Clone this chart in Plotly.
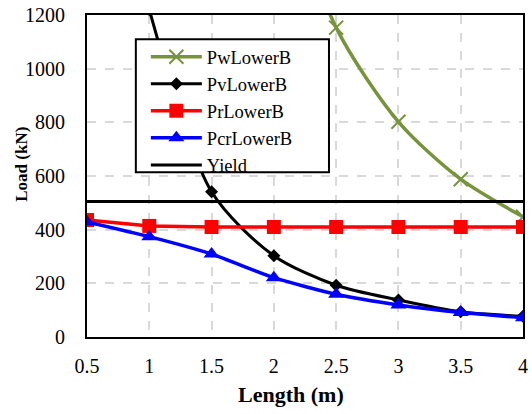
import plotly.graph_objects as go

# ---- data ----
length_m = [0.5, 1.0, 1.5, 2.0, 2.5, 3.0, 3.5, 4.0]

pw_x = [2.0, 2.5, 3.0, 3.5, 4.0]
pw_lower_b = [1800, 1153, 802, 588, 448]

pv_x = [1.0, 1.5, 2.0, 2.5, 3.0, 3.5, 4.0]
pv_lower_b = [1220, 541, 303, 193, 138, 94, 77]

pr_lower_b = [436, 414, 410, 410, 410, 410, 410, 410]
pcr_lower_b = [429, 374, 309, 221, 159, 119, 91, 72]

yield_x = [0.5, 4.0]
yield_load = [505, 505]

x_ticks = [0.5, 1, 1.5, 2, 2.5, 3, 3.5, 4]
x_tick_text = ["0.5", "1", "1.5", "2", "2.5", "3", "3.5", "4"]
y_ticks = [0, 200, 400, 600, 800, 1000, 1200]

x_title = "<b>Length (m)</b>"
y_title = "<b>Load (kN)</b>"

FONT = "Liberation Serif, Times New Roman, serif"

fig = go.Figure()
fig.add_trace(go.Scatter(
    x=pw_x, y=pw_lower_b, name="PwLowerB", mode="lines+markers",
    line=dict(color="#77933C", width=3.5, shape="spline", smoothing=0.8),
    marker=dict(symbol="x-thin", size=14, line=dict(color="#77933C", width=2)),
))
fig.add_trace(go.Scatter(
    x=pv_x, y=pv_lower_b, name="PvLowerB", mode="lines+markers",
    line=dict(color="black", width=3, shape="spline", smoothing=0.8),
    marker=dict(symbol="diamond", size=10, color="black"),
))
fig.add_trace(go.Scatter(
    x=length_m, y=pr_lower_b, name="PrLowerB", mode="lines+markers",
    line=dict(color="#FF0000", width=3.5),
    marker=dict(symbol="square", size=14, color="#FF0000"),
))
fig.add_trace(go.Scatter(
    x=length_m, y=pcr_lower_b, name="PcrLowerB", mode="lines+markers",
    line=dict(color="#0000FF", width=3.5, shape="spline", smoothing=0.6),
    marker=dict(symbol="triangle-up", size=14, color="#0000FF"),
))
fig.add_trace(go.Scatter(
    x=yield_x, y=yield_load, name="Yield", mode="lines",
    line=dict(color="black", width=3),
))

fig.update_layout(
    width=532, height=414,
    margin=dict(l=87, r=9, t=15, b=77),
    paper_bgcolor="white", plot_bgcolor="white",
    font=dict(family=FONT, size=20, color="black"),
    showlegend=True,
    legend=dict(
        x=0.135, y=0.928, xanchor="left", yanchor="top",
        bgcolor="rgba(0,0,0,0)", borderwidth=0,
        font=dict(family=FONT, size=18.5, color="black"),
        itemwidth=51, tracegroupgap=0,
    ),
    shapes=[
        # legend frame
        dict(type="rect", xref="paper", yref="paper",
             x0=0.112, x1=0.555, y0=0.512, y1=0.925,
             fillcolor="white", line=dict(color="black", width=2), layer="above"),
    ],
    xaxis=dict(
        range=[0.5, 4], tickvals=x_ticks, ticktext=x_tick_text,
        showgrid=True, gridcolor="#d9d9d9", gridwidth=1.5, griddash="dash",
        showline=True, linecolor="black", linewidth=2, mirror=True,
        ticks="", zeroline=False, ticklabelstandoff=10, automargin=False,
        tickfont=dict(family=FONT, size=20),
    ),
    yaxis=dict(
        range=[0, 1200], tickvals=y_ticks,
        showgrid=True, gridcolor="#d9d9d9", gridwidth=1.5, griddash="dash",
        showline=True, linecolor="black", linewidth=2, mirror=True,
        ticks="", zeroline=False, ticklabelstandoff=16, automargin=False,
        tickfont=dict(family=FONT, size=20),
    ),
    annotations=[
        dict(text=x_title, xref="paper", yref="paper", x=0.467, y=-0.18,
             xanchor="center", yanchor="middle", showarrow=False,
             font=dict(family=FONT, size=22, color="black")),
        dict(text=y_title, xref="paper", yref="paper", x=-0.149, y=0.535,
             xanchor="center", yanchor="middle", textangle=-90, showarrow=False,
             font=dict(family=FONT, size=17, color="black")),
    ],
)

fig.write_html("out.html")
